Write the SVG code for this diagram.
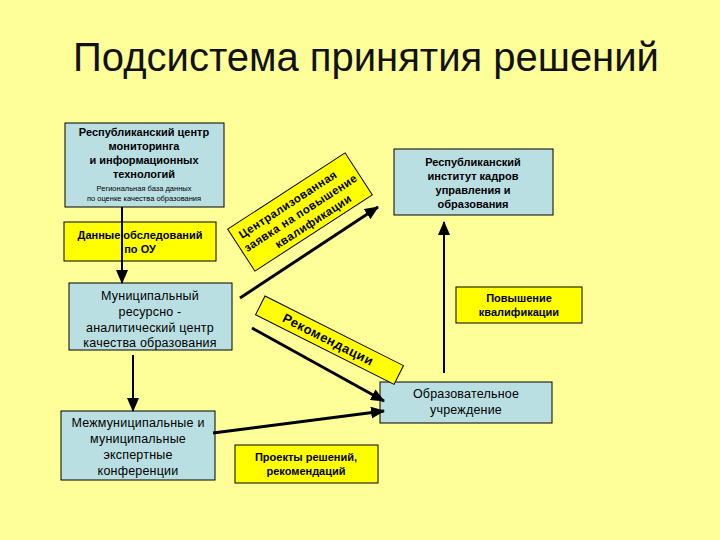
<svg xmlns="http://www.w3.org/2000/svg" width="720" height="540" viewBox="0 0 720 540">
<defs>
<style>
.blue{fill:#BADFE3;stroke:#000;stroke-width:1}
.yel{fill:#FFFF00;stroke:#000;stroke-width:1}
text{font-family:"Liberation Sans",Arial,sans-serif;fill:#000;text-anchor:middle}
.b{font-weight:bold;font-size:11px}
.r{font-weight:bold;font-size:11.5px;letter-spacing:0.4px}
.n{font-size:12.5px;letter-spacing:0.2px}
.s{font-size:7.5px}
.ln{stroke:#000;fill:none}
</style>
<marker id="ah" markerUnits="userSpaceOnUse" markerWidth="14" markerHeight="12" refX="13" refY="6" orient="auto">
<path d="M0,0 L14,6 L0,12 Z" fill="#000"/>
</marker>
</defs>
<rect width="720" height="540" fill="#FFFF99"/>
<text x="366" y="71" style="font-size:40px;fill:#111">Подсистема принятия решений</text>

<g id="n1">
<rect class="blue" x="65" y="123" width="159" height="84"/>
<text class="b" x="144" y="136">Республиканский центр</text>
<text class="b" x="144" y="150">мониторинга</text>
<text class="b" x="144" y="164">и информационных</text>
<text class="b" x="144" y="178">технологий</text>
<text class="s" x="144" y="191">Региональная база данных</text>
<text class="s" x="144" y="201">по оценке качества образования</text>
</g>
<g id="n2">
<rect class="yel" x="64" y="222" width="152" height="39"/>
<text class="b" x="140" y="239">Данные обследований</text>
<text class="b" x="140" y="253">по ОУ</text>
</g>
<g id="n3">
<rect class="blue" x="69" y="283" width="163" height="67"/>
<text class="n" x="150" y="300">Муниципальный</text>
<text class="n" x="150" y="316">ресурсно -</text>
<text class="n" x="150" y="332">аналитический центр</text>
<text class="n" x="150" y="347">качества образования</text>
</g>
<g id="n4">
<rect class="blue" x="61" y="411" width="154" height="69"/>
<text class="n" x="138" y="427">Межмуниципальные и</text>
<text class="n" x="138" y="443">муниципальные</text>
<text class="n" x="138" y="459">экспертные</text>
<text class="n" x="138" y="475">конференции</text>
</g>
<g id="n5">
<rect class="blue" x="394" y="149" width="159" height="66"/>
<text class="b" x="473" y="166">Республиканский</text>
<text class="b" x="473" y="180">институт кадров</text>
<text class="b" x="473" y="194">управления и</text>
<text class="b" x="473" y="208">образования</text>
</g>
<g id="n6">
<rect class="yel" x="456" y="287" width="126" height="36"/>
<text class="b" x="519" y="302">Повышение</text>
<text class="b" x="519" y="316">квалификации</text>
</g>
<g id="n7">
<rect class="blue" x="380" y="382" width="172" height="41"/>
<text class="n" x="466" y="398">Образовательное</text>
<text class="n" x="466" y="414">учреждение</text>
</g>
<g id="n8">
<rect class="yel" x="235" y="445" width="143" height="38"/>
<text class="b" x="306" y="461">Проекты решений,</text>
<text class="b" x="306" y="475">рекомендаций</text>
</g>
<g id="n9" transform="translate(300,212) rotate(-33)">
<rect class="yel" x="-70" y="-25" width="140" height="50"/>
<text class="r" x="-6" y="-9">Централизованная</text>
<text class="r" x="0" y="5">заявка на повышение</text>
<text class="r" x="6" y="19">квалификации</text>
</g>
<g id="n10" transform="translate(265,296) rotate(26.7)">
<rect class="yel" x="0" y="0" width="155" height="21"/>
<text x="76" y="15" style="font-weight:bold;font-size:13px;letter-spacing:0.5px">Рекомендации</text>
</g>

<g id="connectors">
<line class="ln" x1="122" y1="207" x2="122" y2="283" stroke-width="2" marker-end="url(#ah)"/>
<line class="ln" x1="133" y1="355" x2="133" y2="411" stroke-width="2" marker-end="url(#ah)"/>
<line class="ln" x1="240" y1="298" x2="378" y2="207" stroke-width="3" marker-end="url(#ah)"/>
<line class="ln" x1="252" y1="328" x2="384" y2="401" stroke-width="3" marker-end="url(#ah)"/>
<line class="ln" x1="213" y1="433" x2="384" y2="411" stroke-width="3" marker-end="url(#ah)"/>
<line class="ln" x1="444" y1="373" x2="444" y2="222" stroke-width="2" marker-end="url(#ah)"/>
</g>
</svg>
